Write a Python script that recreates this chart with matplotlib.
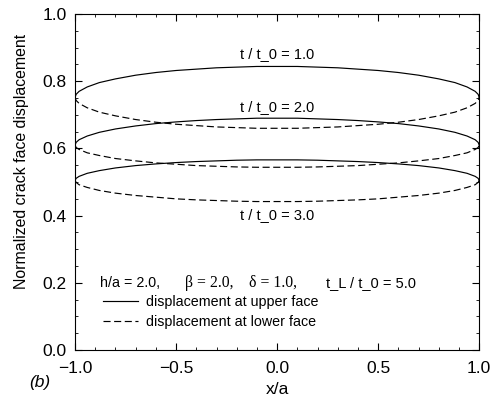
import numpy as np
import matplotlib.pyplot as plt
from matplotlib.ticker import MultipleLocator

plt.rcParams['font.family'] = ['Liberation Sans', 'DejaVu Sans']

# half profile, x/a from -1 to 0 (curves are symmetric about x/a = 0)
x_half = [-1.0, -0.995, -0.98, -0.94, -0.88, -0.8, -0.7, -0.6, -0.5, -0.4, -0.3, -0.2, -0.1, 0.0]

upper_t1 = [0.752, 0.761, 0.770, 0.783, 0.796, 0.807, 0.818, 0.826, 0.832, 0.836, 0.840, 0.842, 0.844, 0.844]
lower_t1 = [0.752, 0.743, 0.734, 0.721, 0.708, 0.697, 0.686, 0.678, 0.672, 0.668, 0.664, 0.662, 0.660, 0.660]
upper_t2 = [0.610, 0.618, 0.626, 0.637, 0.648, 0.658, 0.667, 0.674, 0.679, 0.683, 0.686, 0.688, 0.690, 0.690]
lower_t2 = [0.610, 0.603, 0.597, 0.587, 0.579, 0.570, 0.563, 0.557, 0.553, 0.549, 0.547, 0.545, 0.544, 0.544]
upper_t3 = [0.505, 0.511, 0.517, 0.526, 0.534, 0.542, 0.549, 0.554, 0.558, 0.561, 0.563, 0.565, 0.566, 0.566]
lower_t3 = [0.505, 0.499, 0.492, 0.484, 0.475, 0.467, 0.460, 0.455, 0.450, 0.447, 0.445, 0.443, 0.442, 0.442]

labels = ['t / t_0 = 1.0', 't / t_0 = 2.0', 't / t_0 = 3.0']
label_y = [0.881, 0.723, 0.402]


def full(v, sign=1):
    v = np.array(v)
    return np.concatenate([v, sign * v[-2::-1]])


x = full(x_half, -1)

fig = plt.figure(figsize=(4.94, 4.01), dpi=100)
ax = fig.add_axes([0.152, 0.127, 0.818, 0.838])

pairs = [(upper_t1, lower_t1), (upper_t2, lower_t2), (upper_t3, lower_t3)]
for i, (up, lo) in enumerate(pairs):
    ax.plot(x, full(up), color='black', lw=0.85,
            label='displacement at upper face' if i == 0 else None)
    ax.plot(x, full(lo), color='black', lw=0.85, linestyle=(0, (6, 3)),
            label='displacement at lower face' if i == 0 else None)

for lab, ly in zip(labels, label_y):
    ax.text(0.0, ly, lab, ha='center', va='center', fontsize=10.5)

serif = ['Liberation Serif', 'DejaVu Serif']
ax.text(-0.875, 0.2, 'h/a = 2.0,', fontsize=10.3, va='center')
ax.text(-0.455, 0.2, '\u03b2 = 2.0,', fontsize=11.3, va='center', family=serif)
ax.text(-0.14, 0.2, '\u03b4 = 1.0,', fontsize=11.3, va='center', family=serif)
ax.text(0.24, 0.2, 't_L / t_0 = 5.0', fontsize=10.5, va='center')

ax.legend(loc='upper left', bbox_to_anchor=(0.056, 0.182), frameon=False,
          fontsize=10.3, handlelength=2.4, handletextpad=0.55,
          labelspacing=0.45, borderaxespad=0)

ax.set_xlim(-1.0, 1.0)
ax.set_ylim(0.0, 1.0)
ax.xaxis.set_major_locator(MultipleLocator(0.5))
ax.xaxis.set_minor_locator(MultipleLocator(0.1))
ax.yaxis.set_major_locator(MultipleLocator(0.2))
ax.yaxis.set_minor_locator(MultipleLocator(0.05))
ax.tick_params(which='both', direction='in', top=True, right=True, labelsize=12.5)
ax.tick_params(which='major', length=5, width=0.8)
ax.tick_params(which='minor', length=2.5, width=0.6)
ax.tick_params(axis='y', pad=6)
ax.tick_params(axis='x', pad=8)
ax.xaxis.set_major_formatter(plt.FuncFormatter(lambda v, p: f'{v:.1f}'.replace('-', '\u2212')))
ax.yaxis.set_major_formatter(plt.FuncFormatter(lambda v, p: f'{v:.1f}'))
for s in ax.spines.values():
    s.set_linewidth(0.8)

ax.set_xlabel('x/a', fontsize=12.5, labelpad=4)
ax.set_ylabel('Normalized crack face displacement', fontsize=11.4, labelpad=5)
ax.yaxis.set_label_coords(-0.115, 0.56)
fig.text(0.06, 0.045, '(b)', fontsize=12.5, style='italic', va='center')

fig.savefig('out.png', dpi=100)
